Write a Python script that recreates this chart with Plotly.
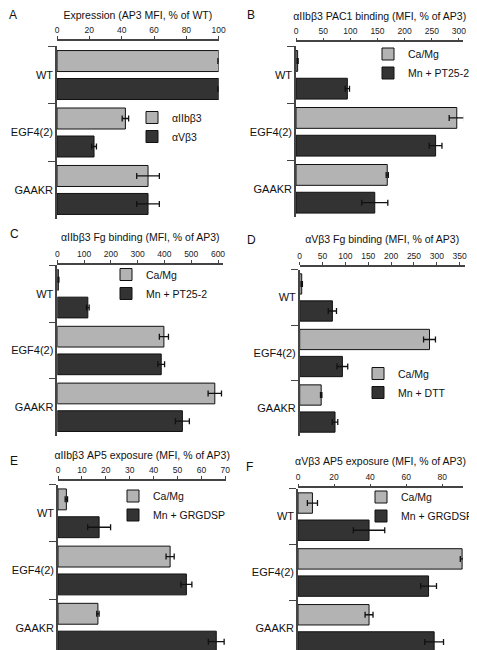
import plotly.graph_objects as go

W, H = 477, 650

categories = ["WT", "EGF4(2)", "GAAKR"]

# Panel A
a_names = ["\u03b1IIb\u03b23", "\u03b1V\u03b23"]
a_light = [100, 42.3, 56.3]
a_light_err = [0.5, 2.0, 7.0]
a_dark = [100, 22.9, 56.3]
a_dark_err = [0.5, 1.5, 7.0]

# Panel B
b_names = ["Ca/Mg", "Mn + PT25-2"]
b_light = [3, 296, 168]
b_light_err = [1, 14, 2]
b_dark = [94.5, 257, 145]
b_dark_err = [4, 11.7, 24]

# Panel C
c_names = ["Ca/Mg", "Mn + PT25-2"]
c_light = [4, 398, 588]
c_light_err = [2, 17, 25]
c_dark = [114, 388, 467]
c_dark_err = [5, 12.5, 26]

# Panel D
d_names = ["Ca/Mg", "Mn + DTT"]
d_light = [4.4, 284, 47]
d_light_err = [1.5, 13, 1.5]
d_dark = [71.5, 93.4, 77.3]
d_dark_err = [9, 11.7, 6]

# Panel E
e_names = ["Ca/Mg", "Mn + GRGDSP"]
e_light = [3.5, 46.9, 16.7]
e_light_err = [0.5, 1.7, 0.5]
e_dark = [17.2, 53.7, 66.2]
e_dark_err = [4.8, 2.3, 3.3]

# Panel F
f_names = ["Ca/Mg", "Mn + GRGDSP"]
f_light = [8, 91, 39.4]
f_light_err = [2.8, 1.0, 2.2]
f_dark = [39.4, 72.4, 75.5]
f_dark_err = [8.7, 4.4, 5.2]

titles = [
    "Expression (AP3 MFI, % of WT)",
    "\u03b1IIb\u03b23 PAC1 binding (MFI, % of AP3)",
    "\u03b1IIb\u03b23 Fg binding (MFI, % of AP3)",
    "\u03b1V\u03b23 Fg binding (MFI, % of AP3)",
    "\u03b1IIb\u03b23 AP5 exposure (MFI, % of AP3)",
    "\u03b1V\u03b23 AP5 exposure (MFI, % of AP3)",
]
tick_values = [
    [0, 20, 40, 60, 80, 100],
    [0, 50, 100, 150, 200, 250, 300],
    [0, 100, 200, 300, 400, 500, 600],
    [0, 50, 100, 150, 200, 250, 300, 350],
    [0, 10, 20, 30, 40, 50, 60, 70],
    [0, 20, 40, 60, 80],
]
letters = ["A", "B", "C", "D", "E", "F"]

panels_data = [
    (a_names, a_light, a_light_err, a_dark, a_dark_err),
    (b_names, b_light, b_light_err, b_dark, b_dark_err),
    (c_names, c_light, c_light_err, c_dark, c_dark_err),
    (d_names, d_light, d_light_err, d_dark, d_dark_err),
    (e_names, e_light, e_light_err, e_dark, e_dark_err),
    (f_names, f_light, f_light_err, f_dark, f_dark_err),
]

# layout geometry in pixels: x0, x1, y_top, y_bottom, axis line y, range max
geom = [
    dict(x0=49, x1=210.7, yt=38.3, yb=210.7, ax=31.7, rmax=100, standoff=2),
    dict(x0=288, x1=455.3, yt=38.3, yb=209.3, ax=33.3, rmax=308, standoff=2),
    dict(x0=49.3, x1=215.1, yt=257.3, yb=427.7, ax=255.7, rmax=619, standoff=4),
    dict(x0=291.7, x1=456.7, yt=261.7, yb=428.3, ax=258.0, rmax=361, standoff=4),
    dict(x0=50, x1=218.3, yt=476.7, yb=648.3, ax=471.7, rmax=70.4, standoff=2),
    dict(x0=290, x1=455.0, yt=480.7, yb=648.3, ax=479.3, rmax=91.5, standoff=3),
]
# legend box left / rows middle (px)
legend_pos = [(124, 119), (360, 55.5), (98, 276), (350, 375), (105, 497.5), (353, 498.5)]
letter_pos = [(5, 7), (243, 7.5), (6.5, 226), (243, 232), (5.5, 453), (242, 459)]

LIGHT = "#b3b3b3"
DARK = "#333333"
EDGE = "#111111"
AXC = "#444444"
FONT = "Liberation Sans, Arial, sans-serif"

fig = go.Figure()
layout = dict(
    width=W, height=H,
    margin=dict(l=0, r=0, t=0, b=0),
    paper_bgcolor="white", plot_bgcolor="white",
    barmode="group", bargap=0.026, bargroupgap=0.25,
    font=dict(family=FONT, color="#111111"),
    showlegend=True,
    annotations=[],
)

for i, ((names, lv, le, dv, de), g) in enumerate(zip(panels_data, geom)):
    k = "" if i == 0 else str(i + 1)
    xa, ya = "x" + k, "y" + k
    lg = "legend" + k
    for name, vals, errs, col in ((names[0], lv, le, LIGHT), (names[1], dv, de, DARK)):
        fig.add_trace(go.Bar(
            y=categories, x=vals, orientation="h", name=name,
            xaxis=xa, yaxis=ya, legend=lg, cliponaxis=False,
            marker=dict(color=col, line=dict(color=EDGE, width=1)),
            error_x=dict(type="data", array=errs, visible=True,
                         color="#111111", thickness=1.3, width=3),
        ))
    layout["xaxis" + k] = dict(
        domain=[g["x0"] / W, g["x1"] / W], range=[0, g["rmax"]],
        side="top", anchor="free", position=1 - g["ax"] / H,
        showline=True, linecolor=AXC, linewidth=1.5,
        ticks="outside", ticklen=3, tickwidth=1, tickcolor=AXC,
        tickvals=tick_values[i], tickfont=dict(size=8.5, color="#222"),
        showgrid=False, zeroline=False, automargin=False,
        title=dict(text=titles[i], font=dict(size=10.5, color="#111"), standoff=g["standoff"]),
        fixedrange=True,
    )
    layout["yaxis" + k] = dict(
        domain=[1 - g["yb"] / H, 1 - g["yt"] / H], anchor=xa,
        type="category", categoryorder="array", categoryarray=categories,
        autorange="reversed",
        showline=True, linecolor=AXC, linewidth=1.5,
        ticks="outside", tickson="boundaries", ticklen=7, tickwidth=1.2, tickcolor=AXC,
        tickfont=dict(size=11, color="#111"),
        showgrid=False, zeroline=False, automargin=False, fixedrange=True,
    )
    lx, lym = legend_pos[i]
    layout[lg] = dict(
        x=lx / W, y=1 - lym / H, xanchor="left", yanchor="middle",
        xref="paper", yref="paper",
        bgcolor="rgba(0,0,0,0)", borderwidth=0, tracegroupgap=0,
        font=dict(size=10.5, family=FONT, color="#111"), itemwidth=30,
    )
    px, py = letter_pos[i]
    layout["annotations"].append(dict(
        text=letters[i], x=px / W, y=1 - py / H, xref="paper", yref="paper",
        xanchor="center", yanchor="middle", showarrow=False,
        font=dict(size=12, family=FONT, color="#111"),
    ))

fig.update_layout(**layout)
fig.write_html("out.html")
